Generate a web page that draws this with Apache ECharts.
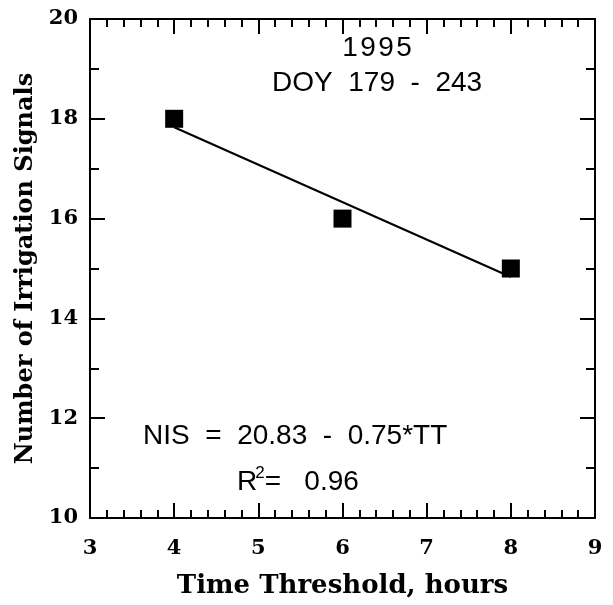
<!DOCTYPE html>
<html><head><meta charset="utf-8">
<script src="https://cdn.jsdelivr.net/npm/echarts@6/dist/echarts.min.js"></script>
<style>html,body{margin:0;padding:0;background:#fff}#c{width:613px;height:605px}</style>
</head><body><div id="c"></div>
<script>
const timeThreshold = [4, 6, 8];
const signals = [18, 16, 15];
const fitX = [4, 8];
const fitY = [17.83, 14.83];
const xTicks = [3, 4, 5, 6, 7, 8, 9];
const yTicks = [10, 12, 14, 16, 18, 20];

const chart = echarts.init(document.getElementById('c'));
const serif = '"DejaVu Serif", "Liberation Serif", serif';
const sans = '"Liberation Sans", Arial, sans-serif';
const axisLine = {show: true, lineStyle: {color: '#000', width: 2}};
function xa(pos, labels) {
  return {type: 'value', position: pos, min: xTicks[0], max: xTicks[xTicks.length-1], interval: 1,
    axisLine: axisLine, splitLine: {show: false},
    axisTick: {show: true, inside: true, length: 15, lineStyle: {color: '#000', width: 2}},
    minorTick: {show: true, splitNumber: 5, length: 8, lineStyle: {color: '#000', width: 2}},
    axisLabel: {show: labels, color: '#000', fontFamily: serif, fontWeight: 'bold', fontSize: 21, margin: 20},
    name: labels ? 'Time Threshold, hours' : '', nameLocation: 'middle', nameGap: 55,
    nameTextStyle: {color: '#000', fontFamily: serif, fontWeight: 'bold', fontSize: 26}};
}
function ya(pos, labels) {
  return {type: 'value', position: pos, min: yTicks[0], max: yTicks[yTicks.length-1], interval: 2,
    axisLine: axisLine, splitLine: {show: false},
    axisTick: {show: true, inside: true, length: 15, lineStyle: {color: '#000', width: 2}},
    minorTick: {show: true, splitNumber: 2, length: 9, lineStyle: {color: '#000', width: 2}},
    axisLabel: {show: labels, color: '#000', fontFamily: serif, fontWeight: 'bold', fontSize: 21, margin: 12},
    name: labels ? 'Number of Irrigation Signals' : '', nameLocation: 'middle', nameGap: 52,
    nameTextStyle: {color: '#000', fontFamily: serif, fontWeight: 'bold', fontSize: 24}};
}
const ann = {fontFamily: sans, fontSize: 28, fill: '#000', verticalAlign: 'middle'};
chart.setOption({
  animation: false,
  grid: {left: 90, right: 18, top: 19, bottom: 87},
  xAxis: [xa('bottom', true), xa('top', false)],
  yAxis: [ya('left', true), ya('right', false)],
  series: [
    {type: 'line', data: fitX.map((x, i) => [x, fitY[i]]), showSymbol: false, symbol: 'none',
     lineStyle: {color: '#000', width: 2}},
    {type: 'scatter', data: timeThreshold.map((x, i) => [x, signals[i]]), symbol: 'rect', symbolSize: 18,
     itemStyle: {color: '#000', opacity: 1}}
  ],
  graphic: [
    {type: 'text', x: 377, y: 48, style: {text: '{d|1}{d|9}{d|9}{d|5}', align: 'center', verticalAlign: 'middle',
      rich: {d: {fontFamily: sans, fontSize: 28, color: '#000', padding: [0, 1.2, 0, 1.2]}}}},
    {type: 'text', x: 272, y: 83, style: Object.assign({}, ann, {text: 'DOY  179  -  243', align: 'left'})},
    {type: 'text', x: 143, y: 436, style: Object.assign({}, ann, {text: 'NIS  =  20.83  -  0.75*TT', align: 'left'})},
    {type: 'text', x: 237, y: 482, style: {text: '{b|R}{s|2}{b|=   0.96}', align: 'left', verticalAlign: 'middle',
      rich: {b: {fontFamily: sans, fontSize: 28, color: '#000'}, s: {fontFamily: sans, fontSize: 17, color: '#000', verticalAlign: 'top', padding: [0, 0, 18, -2]}}}}
  ]
});
</script></body></html>
